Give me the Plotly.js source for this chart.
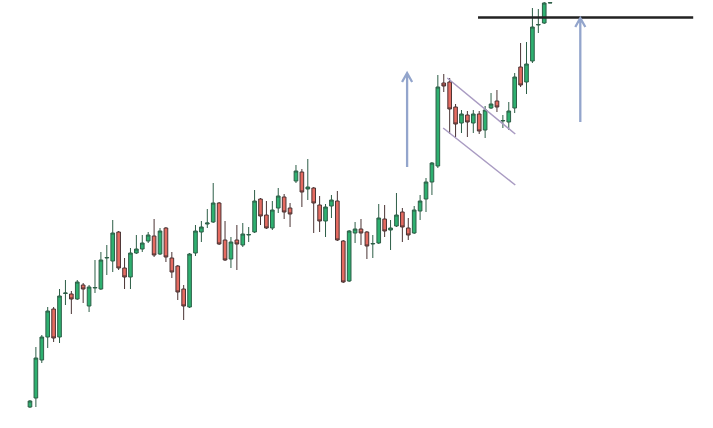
<!DOCTYPE html>
<html>
<head>
<meta charset="utf-8">
<script src="https://cdn.plot.ly/plotly-3.0.1.min.js"></script>
<style>html,body{margin:0;padding:0;background:#fff;}#chart{width:713px;height:428px;}</style>
</head>
<body>
<div id="chart"></div>
<script>
// Candle index (bar number) and OHLC values (arbitrary price units)
const bars = Array.from({length: 89}, (_, i) => i);
const opens = [21,30,68,91,119,91,134.5,134,129,143,122,140,139,170,167,196,160,151,175,179,187,192,174,200,170,162,139,121,175,196,204,206,225,188,169,188,183,193,196,229,213,200,220,231,220,247,256,239,240,223,207,222,227,187,147,195,199,196,184,185,209,198,202,216,200,195,217,229,246,262,345,346,321,305,313,305,314,298,320,327,307,306,320,361,346,367,403,405,425];
const highs = [28,81,93,121,121,139,148,137,148,145,143,168,176,183,208,197,170,180,193,193,196,209,200,201,176,163,143,175,203,207,219,245,226,207,191,203,205,201,238,230,227,227,240,234,225,263,259,269,241,232,224,233,237,188,198,206,209,197,193,224,223,208,235,220,210,222,233,250,266,353,354,350,324,318,317,318,317,322,335,338,313,326,355,385,386,420,419,426,425.5];
const lows = [20,21,65,80,86,85,123,114,128,125,116,135,138,153,156,158,139,139,174,176,185,171,173,166,150,128,108,120,172,186,200,205,183,167,160,158,181,186,195,203,199,198,215,209,201,245,221,228,195,196,191,210,187,145,146,185,183,169,170,184,191,178,201,186,188,194,208,216,233,260,336,294,291,295,291,295,294,290,319,316,300,298,315,341,334,365,395,404,425];
const closes = [27,70,91,117,90,132,135,129,146,139,141,140.5,168,170.5,195,160,151,175,179,185,193,173,197,171,156,136,122,174,197,201,205,225,184,168,186,184,194,193.5,227,212,200,218,232,216,214,257,236,241,225,207,221,228,188,146,197,199,195,182,184.5,210,197,200,213,201,193,218,227,246,265,341,342,319,304,314,306,314,297,318,324,321,307.5,317,351,343,364,401,403.5,425,425.3];

// Annotation geometry (bar index / price)
const resistanceLevel = 410.5;
const resistanceSpan = [75.8, 112.2];
const arrowLeft = {x: 63.8, from: 261, to: 355};
const arrowRight = {x: 93.1, from: 306, to: 410};
const flagUpper = [[70.6, 350], [82.1, 294]];
const flagLower = [[69.9, 300], [82.1, 243]];

function arrowPath(a) {
  const dx = 0.85, dy = 9;
  return `M ${a.x} ${a.from} L ${a.x} ${a.to} M ${a.x - dx} ${a.to - dy} L ${a.x} ${a.to} L ${a.x + dx} ${a.to - dy}`;
}

const arrowColor = '#93a5cc';
const flagColor = '#a99bc2';

const trace = {
  type: 'candlestick',
  x: bars, open: opens, high: highs, low: lows, close: closes,
  increasing: {fillcolor: '#2eb070', line: {color: '#2d5e47', width: 1}},
  decreasing: {fillcolor: '#e56b61', line: {color: '#4a3333', width: 1}},
  whiskerwidth: 0,
  hoverinfo: 'none',
  showlegend: false
};

const layout = {
  width: 713, height: 428,
  margin: {l: 0, r: 0, t: 0, b: 0},
  paper_bgcolor: '#ffffff', plot_bgcolor: '#ffffff',
  boxgap: 0.12,
  xaxis: {range: [-5.07, 115.55], visible: false, showgrid: false, zeroline: false, rangeslider: {visible: false}, fixedrange: true},
  yaxis: {range: [0, 428], visible: false, showgrid: false, zeroline: false, fixedrange: true},
  shapes: [
    {type: 'line', xref: 'x', yref: 'y', x0: resistanceSpan[0], x1: resistanceSpan[1], y0: resistanceLevel, y1: resistanceLevel, line: {color: '#222222', width: 2.5}},
    {type: 'path', xref: 'x', yref: 'y', path: arrowPath(arrowLeft), line: {color: arrowColor, width: 2.3}},
    {type: 'path', xref: 'x', yref: 'y', path: arrowPath(arrowRight), line: {color: arrowColor, width: 2.3}},
    {type: 'line', xref: 'x', yref: 'y', x0: flagUpper[0][0], y0: flagUpper[0][1], x1: flagUpper[1][0], y1: flagUpper[1][1], line: {color: flagColor, width: 1.5}},
    {type: 'line', xref: 'x', yref: 'y', x0: flagLower[0][0], y0: flagLower[0][1], x1: flagLower[1][0], y1: flagLower[1][1], line: {color: flagColor, width: 1.5}}
  ]
};

Plotly.newPlot('chart', [trace], layout, {displayModeBar: false, staticPlot: true});
</script>
</body>
</html>
